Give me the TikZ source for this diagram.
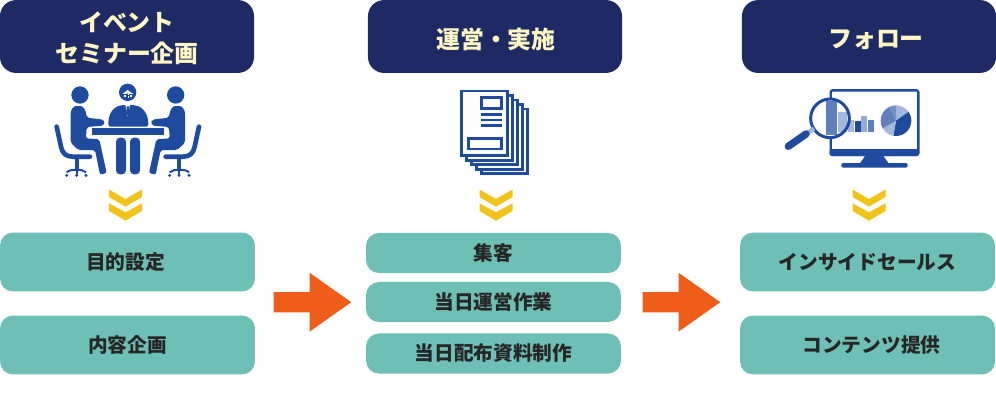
\documentclass[tikz,border=0pt]{standalone}
\usepackage{fontspec}
\setmainfont{Noto Sans CJK JP}
\usetikzlibrary{shapes.arrows, positioning}
\definecolor{navy}{HTML}{1D2A63}
\definecolor{cream}{HTML}{FFF7C4}
\definecolor{teal}{HTML}{6EBFB5}
\definecolor{iconblue}{HTML}{1F4B9E}
\definecolor{midblue}{HTML}{5F80BD}
\definecolor{paleblue}{HTML}{A3B8DC}
\definecolor{chev}{HTML}{F1C41C}
\definecolor{flow}{HTML}{EE5D1A}
\newcommand{\chevrons}[1]{%
    \fill[chev] (#1-16.5,189.5) -- (#1,199) -- (#1+16.5,189.5) -- (#1+16.5,197) -- (#1,206.7) -- (#1-16.5,197) -- cycle;
    \fill[chev] (#1-16.5,203.3) -- (#1,212.3) -- (#1+16.5,203.3) -- (#1+16.5,211) -- (#1,220.7) -- (#1-16.5,211) -- cycle;
}
\newcommand{\sideperson}{%
    \fill[iconblue] (120,60) circle (26);
    \fill[iconblue, rounded corners=0.05cm] (92,122) .. controls (92,102) and (102,93) .. (115,93) .. controls (130,93) and (138,106) .. (140,128) -- (190,134) -- (195,142) -- (190,152) -- (140,156) -- (138,190) -- (178,193) -- (200,294) -- (180,299) -- (165,225) -- (115,225) -- (92,203) -- cycle;
    \draw[iconblue, line width=14*0.025cm/3, line cap=round, line join=round] (50,155) -- (63,215) .. controls (67,235) and (78,245) .. (98,245) -- (150,245);
    \draw[iconblue, line width=11*0.025cm/3] (110,250) -- (110,285);
    \draw[iconblue, line width=6*0.025cm/3] (80,292) .. controls (88,285) and (100,284) .. (110,284) .. controls (120,284) and (130,285) .. (138,292);
    \draw[iconblue, line width=5*0.025cm/3] (110,286) -- (110,302);
    \foreach \cx in {80,110,138} \fill[iconblue] (\cx,301) circle (5);
}
\begin{document}
\begin{tikzpicture}[x=0.025cm, y=-0.025cm,
    head/.style={fill=navy, rounded corners=0.4cm, minimum width=6.35cm, minimum height=1.82cm, inner sep=0pt},
    headtext/.style={text=cream, align=center, font=\fontsize{17}{21.8}\selectfont\bfseries, inner sep=0pt, yshift=-0.075cm},
    tallbox/.style={fill=teal, text=black!85, rounded corners=0.32cm, minimum width=6.37cm, minimum height=1.47cm, align=center, font=\fontsize{14}{16}\selectfont\bfseries, inner sep=0pt},
    lowbox/.style={tallbox, minimum height=1cm},
    flowarrow/.style={single arrow, fill=flow, minimum width=1.46cm, minimum height=1.94cm, single arrow head extend=0.485cm, single arrow tip angle=70.5, single arrow head indent=0cm, inner xsep=0pt, inner ysep=0.245cm, shape border uses incircle=false}
]
    \useasboundingbox (0,0) rectangle (996,414);
    % headers
    \node[head, label={[headtext, yshift=0.035cm]center:イベント\\セミナー企画}] (plan) at (127,36.5) {};
    \node[head, label={[headtext, xshift=0.025cm]center:運営・実施}] (run) at (495,36.5) {};
    \node[head, label={[headtext, xshift=0.175cm]center:フォロー}] (follow) at (869,36.5) {};
    % first column
    \node[tallbox] (goal) at (127.5,262) {目的設定\hspace*{0.1cm}};
    \node[tallbox] (content) at (127.5,345) {内容企画};
    % second column
    \node[lowbox] (attract) at (493.5,253) {集客};
    \node[lowbox] (onsite) at (493.5,302) {当日運営作業};
    \node[lowbox] (material) at (493.5,353.5) {当日配布資料制作};
    % third column
    \node[tallbox] (sales) at (867.5,262) {インサイドセールス};
    \node[tallbox] (offer) at (867.5,345) {\hspace*{0.2cm}コンテンツ提供};
    % big arrows
    \node[flowarrow] (step1) at (305.3,302.2) {};
    \node[flowarrow] (step2) at (674.3,302.2) {};
    % chevrons
    \chevrons{125.5}
    \chevrons{496}
    \chevrons{869}
    % meeting icon
    \begin{scope}[shift={(40,75)}, x=0.025cm/3, y=-0.025cm/3]
        \sideperson
        \begin{scope}[shift={(527,0)}, xscale=-1]
            \sideperson
        \end{scope}
        \fill[iconblue, rounded corners=0.06cm] (205,155) .. controls (205,115) and (220,95) .. (250,90) -- (278,90) .. controls (308,95) and (325,115) .. (325,155) -- cycle;
        \fill[white] (256,90) -- (270,90) -- (263,124) -- cycle;
        \fill[iconblue] (260,94) -- (267,94) -- (268,114) -- (263,121) -- (259,114) -- cycle;
        \fill[iconblue] (263,52) circle (26);
        \fill[white] (263,45) -- (278,56) -- (248,56) -- cycle;
        \fill[white] (248,55) rectangle (262,69);
        \fill[white] (265,55) rectangle (279,69);
        \draw[iconblue, line width=2.5*0.025cm/3] (251,58) rectangle (260,66) (267,58) rectangle (276,66) (260,61) -- (267,61);
        \fill[iconblue] (155,160) rectangle (372,180);
        \fill[iconblue, rounded corners=0.1cm] (228,188) rectangle (258,298);
        \fill[iconblue, rounded corners=0.1cm] (270,188) rectangle (300,298);
    \end{scope}
    % document icon
    \begin{scope}[shift={(440,75)}, x=0.025cm/3, y=-0.025cm/3]
        \foreach \dd in {4,3,2,1,0} {
            \draw[iconblue, fill=white, line width=8*0.025cm/3] (65+15*\dd,48+13.5*\dd) rectangle (203+15*\dd,242+13.5*\dd);
        }
        \draw[iconblue, line width=8*0.025cm/3] (125,68) rectangle (185,100);
        \foreach \ly in {118,135,152} \fill[iconblue] (122,\ly-4) rectangle (187,\ly+4);
        \draw[iconblue, line width=8*0.025cm/3] (85,190) rectangle (185,222);
    \end{scope}
    % monitor icon
    \begin{scope}[shift={(770,75)}, x=0.025cm/3, y=-0.025cm/3]
        \draw[iconblue, rounded corners=0.05cm, line width=7*0.025cm/3] (182,46) rectangle (445,240);
        \fill[iconblue, rounded corners=0.04cm] (179,222) rectangle (447,243);
        \fill[iconblue] (285,243) -- (340,243) -- (356,265) -- (270,265) -- cycle;
        \fill[iconblue, rounded corners=0.05cm] (214,264) rectangle (413,278);
        % bars
        \fill[white] (180,130) circle (58);
        \fill[midblue] (168,78) rectangle (200,180);
        \fill[paleblue] (205,110) rectangle (232,172);
        \fill[paleblue] (234,135) rectangle (253,170);
        \fill[iconblue] (255,138) rectangle (272,170);
        \fill[paleblue!80!midblue] (274,123) rectangle (292,170);
        \fill[midblue] (294,135) rectangle (312,170);
        % pie
        \fill[paleblue] (378,137) -- ++(-90:46) arc[start angle=-90, end angle=-35, radius=46] -- cycle;
        \fill[iconblue] (378,137) -- ++(-35:46) arc[start angle=-35, end angle=100, radius=46] -- cycle;
        \fill[paleblue] (378,137) -- ++(100:46) arc[start angle=100, end angle=150, radius=46] -- cycle;
        \fill[midblue] (378,137) -- ++(150:46) arc[start angle=150, end angle=245, radius=46] -- cycle;
        \fill[midblue!70!paleblue] (378,137) -- ++(245:46) arc[start angle=245, end angle=270, radius=46] -- cycle;
        % magnifier
        \draw[iconblue, line width=9*0.025cm/3] (180,130) circle (58);
        \draw[paleblue, line width=14*0.025cm/3] (108,177) -- (132,161);
        \draw[iconblue, line width=22*0.025cm/3, line cap=round] (55,214) -- (108,177);
    \end{scope}
\end{tikzpicture}
\end{document}
